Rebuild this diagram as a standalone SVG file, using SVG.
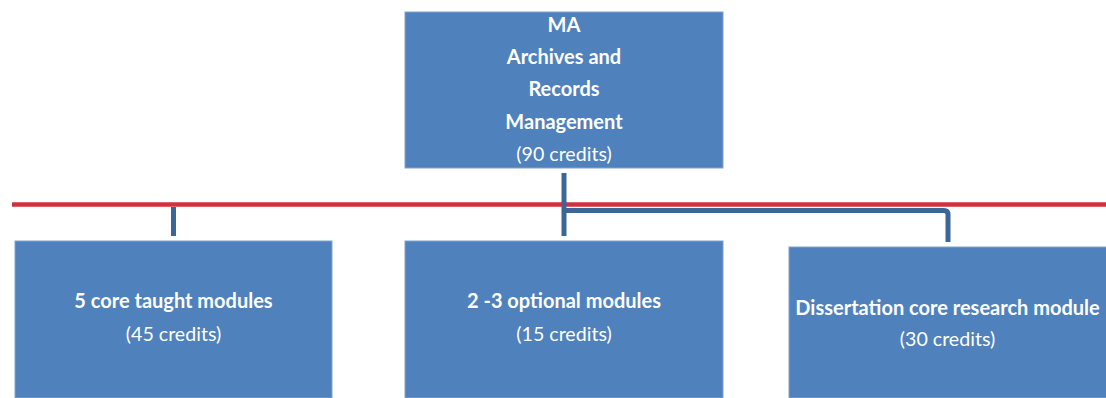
<svg xmlns="http://www.w3.org/2000/svg" width="1106" height="398" viewBox="0 0 1106 398">
<style>
.box{fill:#4F81BD;stroke:#7EA3CF;stroke-width:1}
.t{font-family:Lato,"Open Sans",sans-serif;fill:#fff;text-anchor:middle}
.b{font-weight:bold;font-size:20px}
.n{font-size:19.6px}
.conn{fill:none;stroke:#3C6698;stroke-width:5}
</style>
<rect width="1106" height="398" fill="#fff"/>
<g id="connectors">
<line x1="12" y1="204.5" x2="1106" y2="204.5" stroke="#D3313A" stroke-width="4.5"/>
<line class="conn" x1="564" y1="173" x2="564" y2="236"/>
<line class="conn" x1="173.5" y1="207" x2="173.5" y2="236"/>
<path class="conn" d="M566 210.5 H944 Q948 210.5 948 214.5 V242"/>
</g>
<g id="top">
<rect class="box" x="405" y="12" width="318" height="156"/>
<text class="t b" x="564" y="32">MA</text>
<text class="t b" x="564" y="64">Archives and</text>
<text class="t b" x="564" y="96">Records</text>
<text class="t b" x="564" y="128.5">Management</text>
<text class="t n" x="564" y="161">(90 credits)</text>
</g>
<g id="core">
<rect class="box" x="15" y="241" width="317" height="157"/>
<text class="t b" x="173.5" y="308">5 core taught modules</text>
<text class="t n" x="173.5" y="341">(45 credits)</text>
</g>
<g id="optional">
<rect class="box" x="405" y="241" width="318" height="157"/>
<text class="t b" x="564" y="308">2 -3 optional modules</text>
<text class="t n" x="564" y="341">(15 credits)</text>
</g>
<g id="dissertation">
<rect class="box" x="789" y="247" width="318" height="151"/>
<text class="t b" x="947.5" y="315">Dissertation core research module</text>
<text class="t n" x="947.5" y="346">(30 credits)</text>
</g>
</svg>
